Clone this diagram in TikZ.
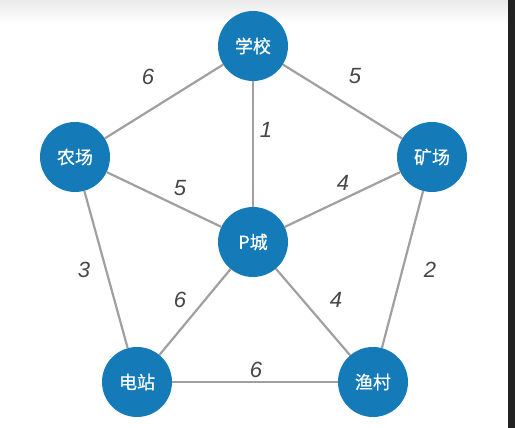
\documentclass[tikz,border=0pt]{standalone}
\usepackage{fontspec}
\setmainfont{Liberation Sans}
\newfontfamily\cjk[FakeBold=0.6]{Noto Sans CJK SC}
\definecolor{nodeblue}{RGB}{20,122,184}
\definecolor{edgegray}{RGB}{160,160,160}
\definecolor{labgray}{RGB}{70,70,70}
\definecolor{darkband}{RGB}{34,34,34}
\begin{document}
\begin{tikzpicture}[x=1pt,y=-1pt,
  city/.style={circle,fill=nodeblue,minimum size=70pt,inner sep=0pt,text=white,font=\cjk\fontsize{18}{18}\selectfont},
  road/.style={draw=edgegray,line width=2.2pt},
  wt/.style={text=labgray,font=\itshape\fontsize{22}{22}\selectfont,inner sep=0pt}]
\useasboundingbox (0,0) rectangle (515,428);
\fill[white] (0,0) rectangle (515,428);
\shade[top color=black!8,bottom color=white] (0,0) rectangle (508,24);
\fill[darkband] (508,0) rectangle (515,428);
\node[city] (school) at (253,46) {学校};
\node[city] (farm) at (75,157) {农场};
\node[city] (mine) at (432,157) {矿场};
\node[city] (p) at (253,242) {P城};
\node[city] (power) at (137,382) {电站};
\node[city] (fish) at (373,382) {渔村};
\draw[road] (school) -- (farm);
\draw[road] (school) -- (mine);
\draw[road] (school) -- (p);
\draw[road] (farm) -- (p);
\draw[road] (mine) -- (p);
\draw[road] (farm) -- (power);
\draw[road] (mine) -- (fish);
\draw[road] (p) -- (power);
\draw[road] (p) -- (fish);
\draw[road] (power) -- (fish);
\node[wt] (w1) at (148,77) {6};
\node[wt] (w2) at (355,76) {5};
\node[wt] (w3) at (266,130) {1};
\node[wt] (w4) at (180,188) {5};
\node[wt] (w5) at (343,183) {4};
\node[wt] (w6) at (84,270) {3};
\node[wt] (w7) at (430,270) {2};
\node[wt] (w8) at (180,300) {6};
\node[wt] (w9) at (336,300) {4};
\node[wt] (w10) at (256,370) {6};
\end{tikzpicture}
\end{document}
